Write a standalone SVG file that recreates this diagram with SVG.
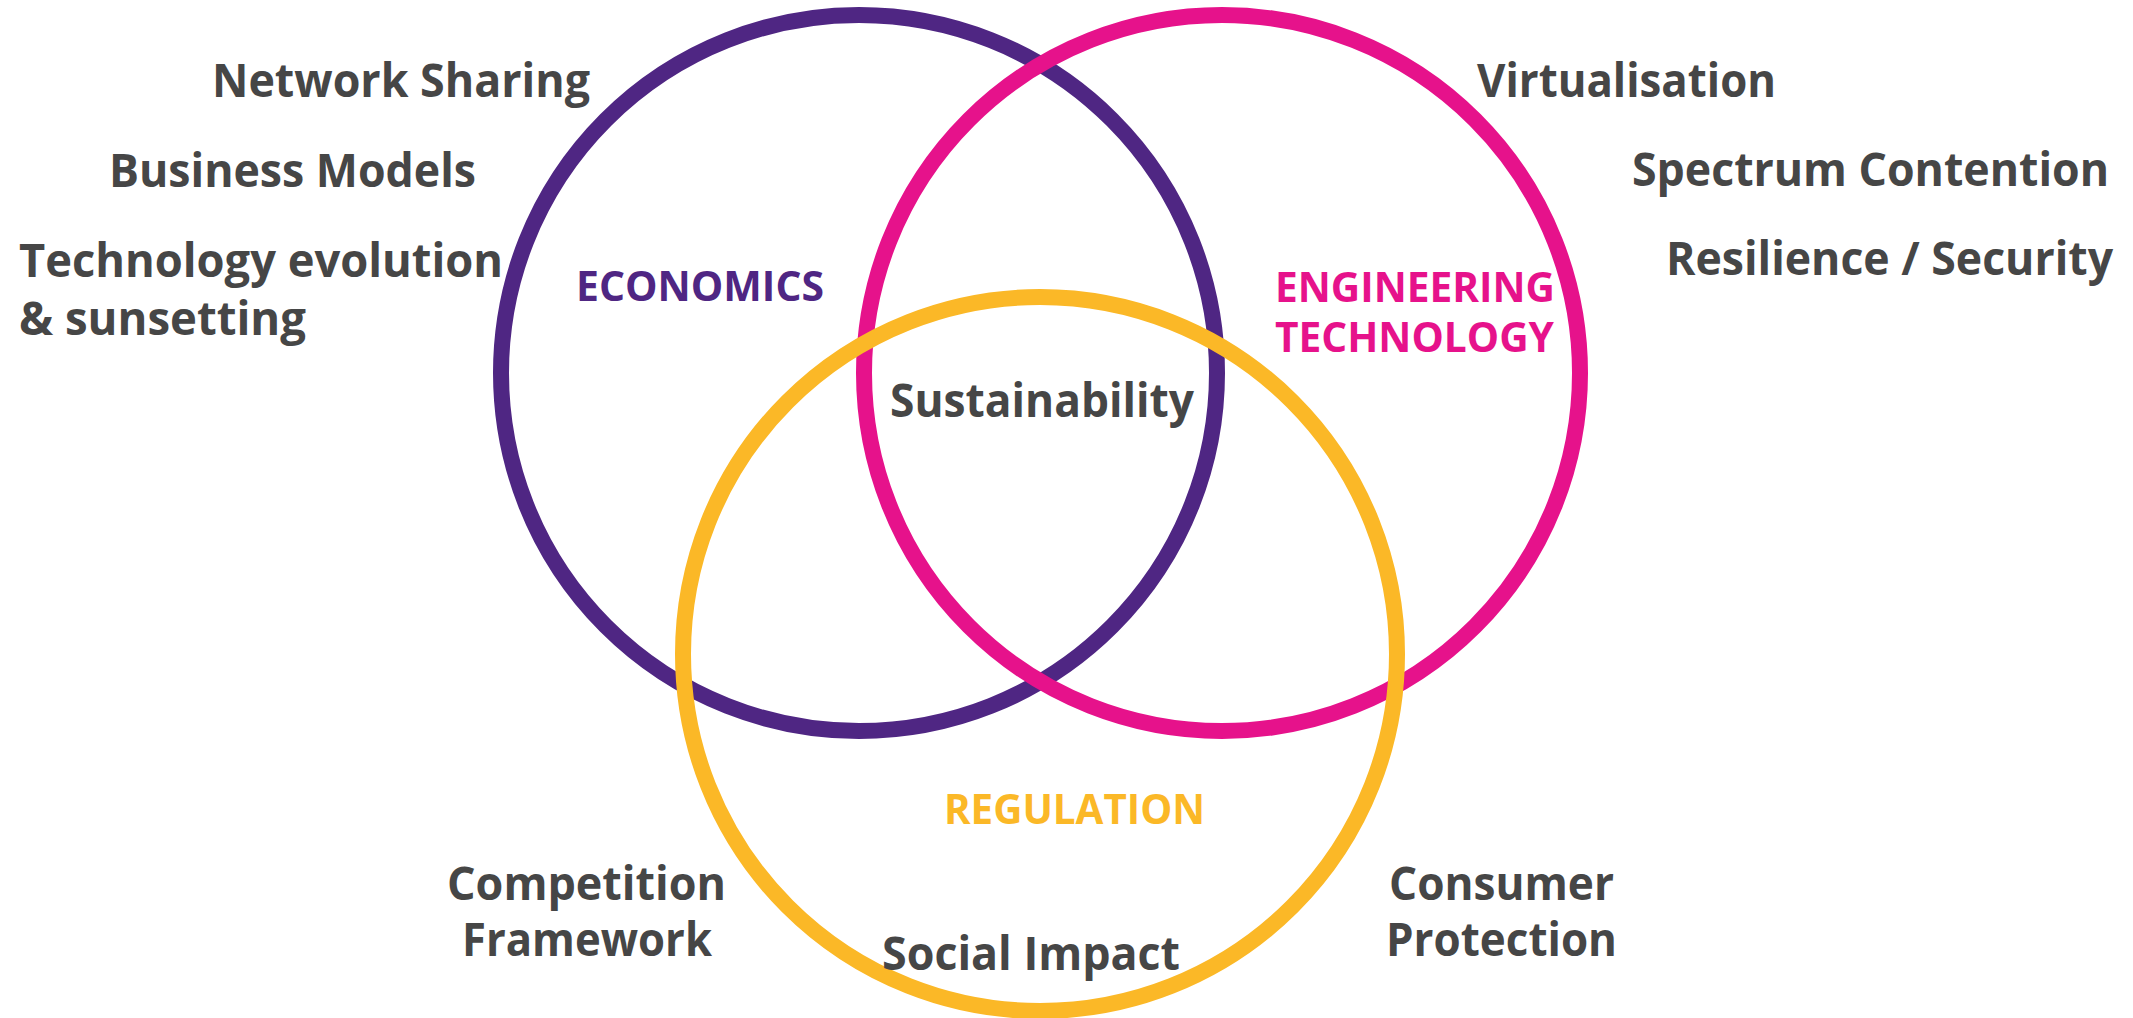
<svg xmlns="http://www.w3.org/2000/svg" width="2133" height="1018" viewBox="0 0 2133 1018">
<style>
.ring{fill:none;stroke-width:16}
.item{font-family:"Open Sans","Liberation Sans",sans-serif;font-weight:700;font-size:46px;fill:#464646}
.cat{font-family:"Open Sans","Liberation Sans",sans-serif;font-weight:700;font-size:41px}
</style>
<rect width="2133" height="1018" fill="#ffffff"/>
<g id="economics">
<circle class="ring" cx="859" cy="373" r="358" stroke="#4F2683"/>
<text class="cat" x="576" y="301" textLength="248" lengthAdjust="spacingAndGlyphs" fill="#4F2683">ECONOMICS</text>
</g>
<g id="engineering">
<circle class="ring" cx="1222" cy="373" r="358" stroke="#E6128B"/>
<text class="cat" x="1275" y="302" textLength="280" lengthAdjust="spacingAndGlyphs" fill="#E6128B">ENGINEERING</text>
<text class="cat" x="1275" y="352" textLength="279" lengthAdjust="spacingAndGlyphs" fill="#E6128B">TECHNOLOGY</text>
</g>
<g id="regulation">
<circle class="ring" cx="1040" cy="654" r="357" stroke="#FBB827"/>
<text class="cat" x="944" y="824" textLength="261" lengthAdjust="spacingAndGlyphs" fill="#FBB827">REGULATION</text>
</g>
<g id="sustainability">
<text class="item" x="890" y="417" textLength="304" lengthAdjust="spacingAndGlyphs">Sustainability</text>
</g>
<g id="network-sharing"><text class="item" x="212" y="97" textLength="378" lengthAdjust="spacingAndGlyphs">Network Sharing</text></g>
<g id="business-models"><text class="item" x="109" y="187" textLength="367" lengthAdjust="spacingAndGlyphs">Business Models</text></g>
<g id="tech-evolution">
<text class="item" x="19" y="277" textLength="484" lengthAdjust="spacingAndGlyphs">Technology evolution</text>
<text class="item" x="19" y="335" textLength="287" lengthAdjust="spacingAndGlyphs">&amp; sunsetting</text>
</g>
<g id="virtualisation"><text class="item" x="1477" y="97" textLength="299" lengthAdjust="spacingAndGlyphs">Virtualisation</text></g>
<g id="spectrum"><text class="item" x="1632" y="186" textLength="477" lengthAdjust="spacingAndGlyphs">Spectrum Contention</text></g>
<g id="resilience"><text class="item" x="1666" y="275" textLength="447" lengthAdjust="spacingAndGlyphs">Resilience / Security</text></g>
<g id="competition">
<text class="item" x="447" y="900" textLength="279" lengthAdjust="spacingAndGlyphs">Competition</text>
<text class="item" x="462" y="956" textLength="250" lengthAdjust="spacingAndGlyphs">Framework</text>
</g>
<g id="social-impact"><text class="item" x="882" y="970" textLength="298" lengthAdjust="spacingAndGlyphs">Social Impact</text></g>
<g id="consumer">
<text class="item" x="1389" y="900" textLength="225" lengthAdjust="spacingAndGlyphs">Consumer</text>
<text class="item" x="1386" y="956" textLength="231" lengthAdjust="spacingAndGlyphs">Protection</text>
</g>
<g id="connectors"></g>
</svg>
